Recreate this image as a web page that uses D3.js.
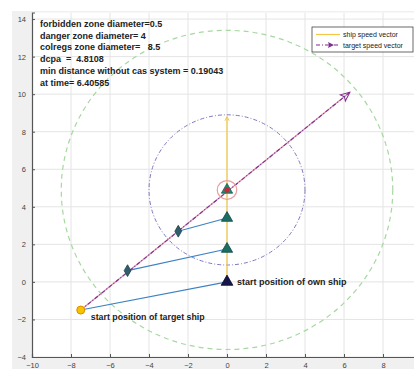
<!DOCTYPE html>
<html>
<head>
<meta charset="utf-8">
<script src="https://cdn.jsdelivr.net/npm/d3@7"></script>
<style>
  html, body { margin: 0; padding: 0; background: #fff; }
  svg { display: block; font-family: "Liberation Sans", Arial, sans-serif; }
</style>
</head>
<body>
<svg id="chart" width="414" height="369"></svg>
<script>
// Axis ticks
const xTicks = [-10, -8, -6, -4, -2, 0, 2, 4, 6, 8];
const yTicks = [-4, -2, 0, 2, 4, 6, 8, 10, 12, 14];

// Own ship: start position, speed vector end, later positions
const ownStart = [0, 0];
const ownSpeedEnd = [0, 8.8];
const ownPositions = [[0, 1.75], [0, 3.4]];

// Target ship: start position, speed vector end, later positions
const targetStart = [-7.5, -1.5];
const targetSpeedEnd = [6.3, 10.1];
const targetPositions = [[-5.1, 0.6], [-2.5, 2.7]];

// Closest point of approach and zone radii around it
const cpaPoint = [0, 4.9];
const zoneRadii = { forbidden: 0.5, danger: 4, colregs: 8.5 };

// Sight lines between matching target / own positions
const sightLines = [
  [[-7.5, -1.5], [0, 0]],
  [[-5.1, 0.6], [0, 1.75]],
  [[-2.5, 2.7], [0, 3.4]]
];

// Info text block
const infoLines = [
  "forbidden zone diameter=0.5",
  "danger zone diameter= 4",
  "colregs zone diameter=   8.5",
  "dcpa  =  4.8108",
  "min distance without cas system = 0.19043",
  "at time= 6.40585"
];

const legendItems = [
  { label: "ship speed vector", color: "#f2c744", dash: null, marker: false },
  { label: "target speed vector", color: "#7e2f8e", dash: "4,2,1,2", marker: true }
];

const svg = d3.select("#chart");
const W = 414, H = 369;

// Figure background
svg.append("rect").attr("x", 12).attr("y", 11).attr("width", W - 12).attr("height", H - 11)
  .attr("fill", "#f0f0f0");

const x = d3.scaleLinear().domain([-10, 10]).range([32, 422]);
const y = d3.scaleLinear().domain([-4, 14.35]).range([357, 12.5]);

const defs = svg.append("defs");
defs.append("clipPath").attr("id", "plotClip").append("rect")
  .attr("x", x(-10)).attr("y", y(14.35)).attr("width", x(10) - x(-10)).attr("height", y(-4) - y(14.35));

// Axes area
svg.append("rect").attr("x", x(-10)).attr("y", y(14.35))
  .attr("width", x(10) - x(-10)).attr("height", y(-4) - y(14.35)).attr("fill", "#fff");

const plot = svg.append("g").attr("clip-path", "url(#plotClip)");

// Grid
plot.append("g").selectAll("line").data(xTicks).join("line")
  .attr("x1", d => x(d)).attr("x2", d => x(d)).attr("y1", y(14.35)).attr("y2", y(-4))
  .attr("stroke", "#e4e4e4").attr("stroke-width", 1);
plot.append("g").selectAll("line").data(yTicks).join("line")
  .attr("y1", d => y(d)).attr("y2", d => y(d)).attr("x1", x(-10)).attr("x2", x(10))
  .attr("stroke", "#e4e4e4").attr("stroke-width", 1);

// Axes with ticks
const xAxis = svg.append("g").attr("transform", `translate(0,${y(-4)})`)
  .call(d3.axisBottom(x).tickValues(xTicks).tickSize(-3).tickPadding(6));
const yAxis = svg.append("g").attr("transform", `translate(${x(-10)},0)`)
  .call(d3.axisLeft(y).tickValues(yTicks).tickSize(-3).tickPadding(6));
[xAxis, yAxis].forEach(a => {
  a.select(".domain").attr("stroke", "#555").attr("stroke-width", 1.2);
  a.selectAll(".tick line").attr("stroke", "#555");
  a.selectAll(".tick text").attr("fill", "#444").attr("font-size", 7.5);
});

// Zone circles around the CPA
const cx = x(cpaPoint[0]), cy = y(cpaPoint[1]);
const rx = r => x(r) - x(0), ry = r => y(0) - y(r);
plot.append("ellipse").attr("cx", cx).attr("cy", cy)
  .attr("rx", rx(zoneRadii.colregs)).attr("ry", ry(zoneRadii.colregs))
  .attr("fill", "none").attr("stroke", "#a6d8a0").attr("stroke-width", 1.2).attr("stroke-dasharray", "5,4");
plot.append("ellipse").attr("cx", cx).attr("cy", cy)
  .attr("rx", rx(zoneRadii.danger)).attr("ry", ry(zoneRadii.danger))
  .attr("fill", "none").attr("stroke", "#7d78c0").attr("stroke-width", 1).attr("stroke-dasharray", "4,2,1,2");

// Sight lines
const line = d3.line().x(d => x(d[0])).y(d => y(d[1]));
plot.append("g").selectAll("path").data(sightLines).join("path")
  .attr("d", d => line(d)).attr("fill", "none").attr("stroke", "#3b82c4").attr("stroke-width", 1.1);

// Own ship speed vector
plot.append("path").attr("d", line([ownStart, ownSpeedEnd]))
  .attr("stroke", "#f2c744").attr("stroke-width", 1.2).attr("fill", "none");
const oEnd = [x(ownSpeedEnd[0]), y(ownSpeedEnd[1])];
plot.append("path")
  .attr("d", `M${oEnd[0]},${oEnd[1]} l-2,4 M${oEnd[0]},${oEnd[1]} l2,4`)
  .attr("stroke", "#f2c744").attr("stroke-width", 1).attr("fill", "none");

// Target speed vector
plot.append("path").attr("d", line([targetStart, targetSpeedEnd]))
  .attr("stroke", "#c04878").attr("stroke-width", 1.3).attr("fill", "none").attr("opacity", 0.6);
plot.append("path").attr("d", line([targetStart, targetSpeedEnd]))
  .attr("stroke", "#7e2f8e").attr("stroke-width", 1.1).attr("fill", "none").attr("stroke-dasharray", "4,2,1,2");
const t0 = [x(targetStart[0]), y(targetStart[1])], t1 = [x(targetSpeedEnd[0]), y(targetSpeedEnd[1])];
const ang = Math.atan2(t1[1] - t0[1], t1[0] - t0[0]) * 180 / Math.PI;
plot.append("path").attr("d", "M0,0 L-9,-4 L-7,0 L-9,4 Z")
  .attr("transform", `translate(${t1[0]},${t1[1]}) rotate(${ang})`)
  .attr("fill", "none").attr("stroke", "#7e2f8e").attr("stroke-width", 1);

// Forbidden zone
plot.append("ellipse").attr("cx", cx).attr("cy", cy)
  .attr("rx", rx(zoneRadii.forbidden)).attr("ry", ry(zoneRadii.forbidden))
  .attr("fill", "none").attr("stroke", "#e8a0a0").attr("stroke-width", 1.2);

// Target positions
plot.append("g").selectAll("path").data(targetPositions).join("path")
  .attr("d", d3.symbol(d3.symbolDiamond, 40)())
  .attr("transform", d => `translate(${x(d[0])},${y(d[1])})`)
  .attr("fill", "#2f5f6c").attr("stroke", "#1d3d48").attr("stroke-width", 0.8);

// Own ship positions
plot.append("g").selectAll("path").data(ownPositions).join("path")
  .attr("d", d3.symbol(d3.symbolTriangle, 55)())
  .attr("transform", d => `translate(${x(d[0])},${y(d[1])})`)
  .attr("fill", "#1b6e62").attr("stroke", "#124a44").attr("stroke-width", 0.8);

// CPA marker
plot.append("path").attr("d", d3.symbol(d3.symbolTriangle, 55)())
  .attr("transform", `translate(${cx},${cy})`)
  .attr("fill", "#1f8a6e").attr("stroke", "#146050").attr("stroke-width", 0.8);
plot.append("circle").attr("cx", cx).attr("cy", cy).attr("r", 2.6).attr("fill", "#c8283c");

// Own start
plot.append("path").attr("d", d3.symbol(d3.symbolTriangle, 60)())
  .attr("transform", `translate(${x(ownStart[0])},${y(ownStart[1])})`)
  .attr("fill", "#15154a").attr("stroke", "#0c0c30").attr("stroke-width", 0.8);

// Target start
plot.append("circle").attr("cx", t0[0]).attr("cy", t0[1]).attr("r", 4)
  .attr("fill", "#f5c400").attr("stroke", "#e08a00").attr("stroke-width", 1);

// Point labels
plot.append("text").attr("x", x(ownStart[0]) + 10).attr("y", y(ownStart[1]) + 3)
  .attr("font-size", 9).attr("font-weight", "bold").attr("fill", "#222")
  .text("start position of own ship");
plot.append("text").attr("x", t0[0] + 10).attr("y", t0[1] + 10)
  .attr("font-size", 8.8).attr("font-weight", "bold").attr("fill", "#222")
  .text("start position of target ship");

// Info text
svg.append("g").selectAll("text").data(infoLines).join("text")
  .attr("x", 40).attr("y", (d, i) => 27 + i * 11.7)
  .attr("font-size", 9).attr("font-weight", "bold").attr("fill", "#222")
  .attr("xml:space", "preserve").style("white-space", "pre")
  .text(d => d);

// Legend
const lg = svg.append("g").attr("transform", "translate(312,27)");
lg.append("rect").attr("width", 101).attr("height", 25).attr("fill", "#fff")
  .attr("stroke", "#444").attr("stroke-width", 0.8);
legendItems.forEach((it, i) => {
  const yy = 7.5 + i * 10.5;
  lg.append("line").attr("x1", 4).attr("x2", 28).attr("y1", yy).attr("y2", yy)
    .attr("stroke", it.color).attr("stroke-width", 1.2)
    .attr("stroke-dasharray", it.dash);
  if (it.marker) {
    lg.append("path").attr("d", "M0,0 L-6,-3 L-5,0 L-6,3 Z")
      .attr("transform", `translate(22,${yy})`).attr("fill", it.color);
  }
  lg.append("text").attr("x", 31).attr("y", yy + 2.5).attr("font-size", 7).attr("fill", "#222")
    .text(it.label);
});
</script>
</body>
</html>
